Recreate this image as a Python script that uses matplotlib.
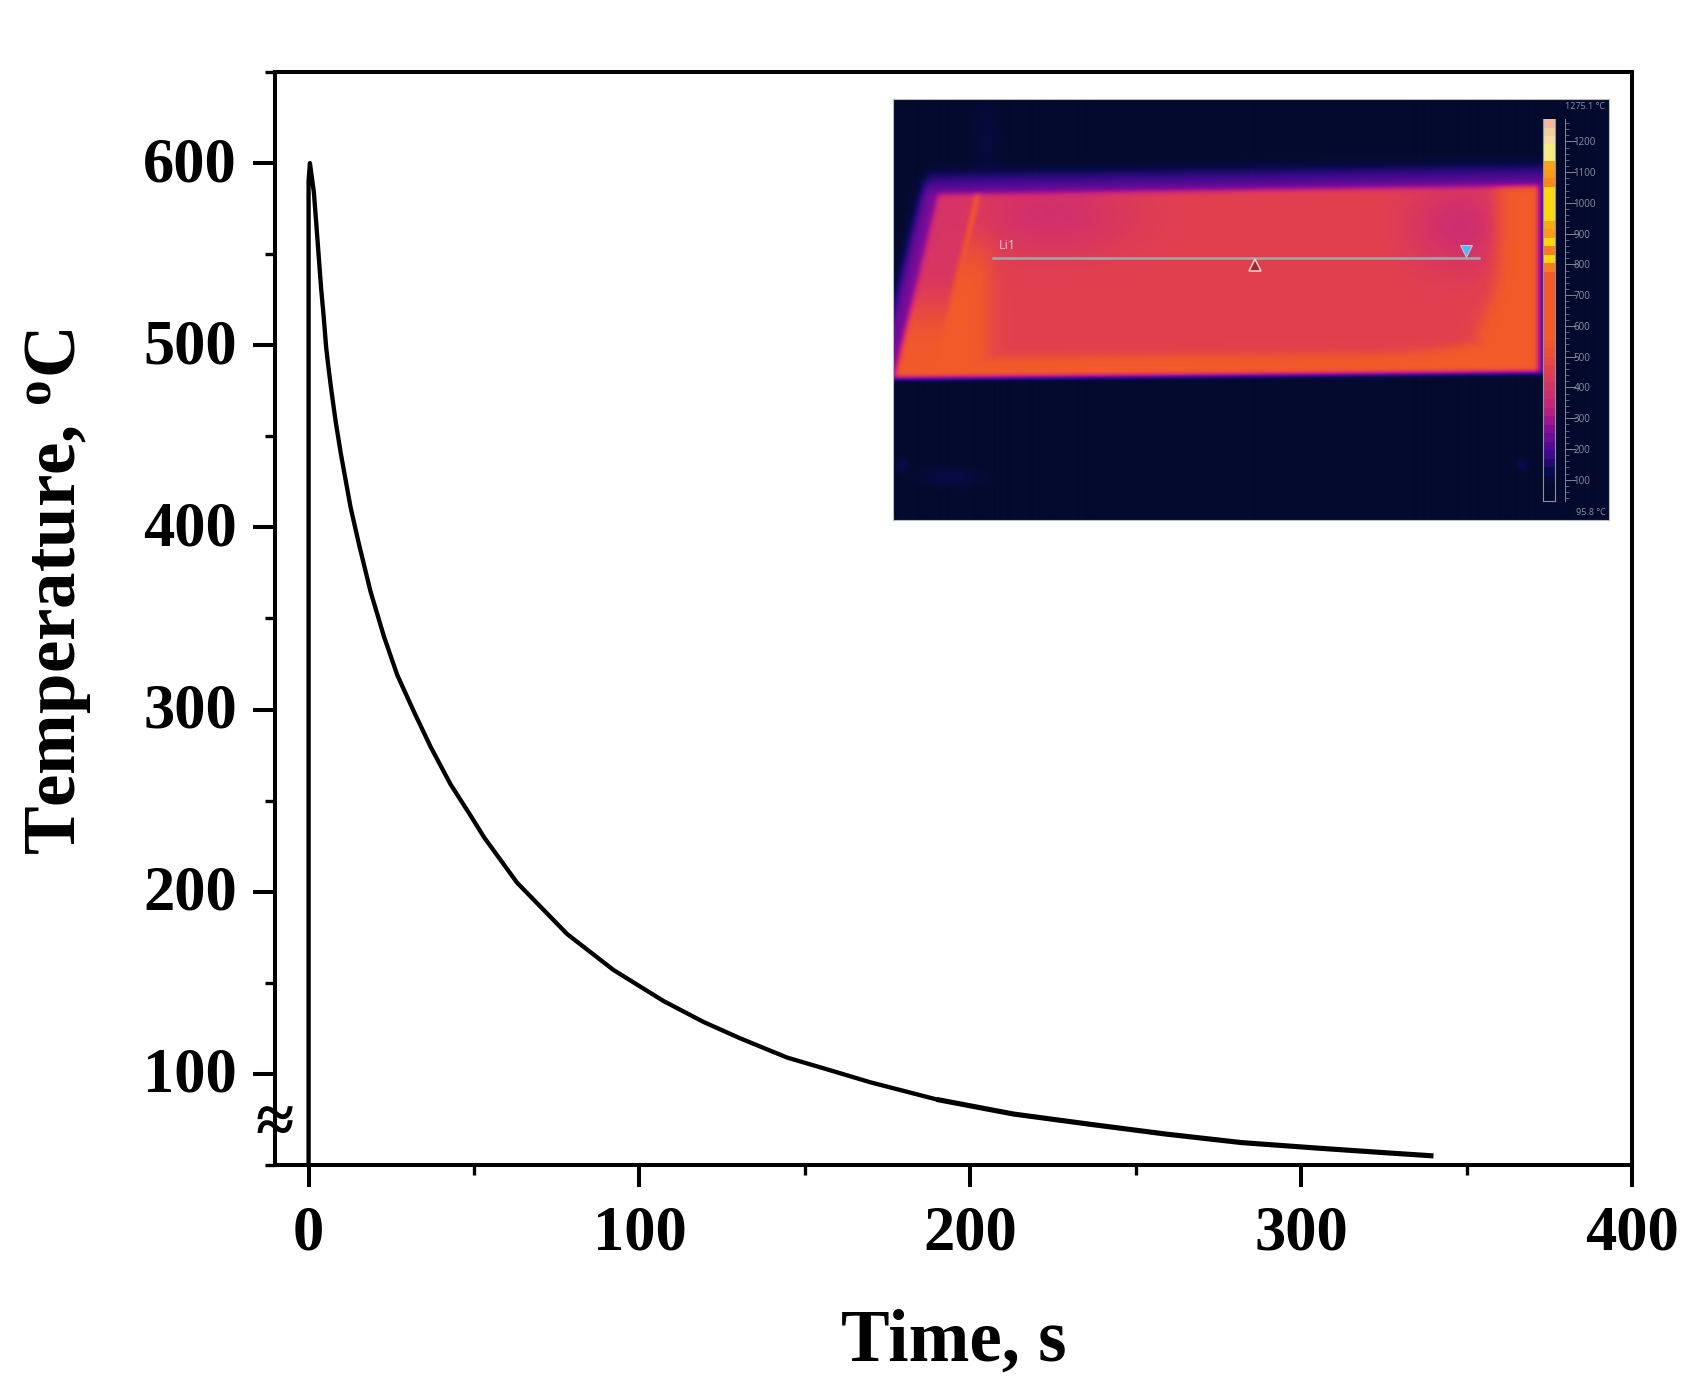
import matplotlib
matplotlib.use('Agg')
import matplotlib.pyplot as plt
import numpy as np
from matplotlib.colors import LinearSegmentedColormap
from matplotlib.ticker import MultipleLocator
from matplotlib.transforms import ScaledTranslation

plt.rcParams['font.family'] = ['Liberation Serif', 'DejaVu Serif']
plt.rcParams['mathtext.fontset'] = 'custom'
plt.rcParams['mathtext.rm'] = 'Liberation Serif:bold'

# cooling curve
time_s = [0.0, 0.0, 0.4, 1.6, 2.4, 3.1, 3.8, 4.6, 5.3, 6.0, 6.9, 8.2, 9.7, 12.7, 15.2,
          18.7, 22.8, 26.8, 31.8, 36.9, 42.9, 48.9, 53, 63, 78.2, 92.2, 107.3, 119.4, 130.5,
          144.6, 159.7, 169.8, 189.8, 213, 236, 259, 282, 305.5, 329, 340]
temp_c = [50, 590, 600, 584, 565, 548, 531, 515, 499, 488, 475, 458, 441, 411, 391,
          365, 340, 319, 299, 279.5, 259, 242, 230, 205, 176.7, 157, 140, 128.5, 119.5,
          109, 100.9, 95.4, 86, 78, 72.4, 67, 62.3, 59.2, 56.3, 55]
n_thin = 33  # the trace gets heavier from here on

x_ticks = [0, 100, 200, 300, 400]
y_ticks = [100, 200, 300, 400, 500, 600]

# colour scale of the thermal camera shot, bottom to top
scale_ticks = [100, 200, 300, 400, 500, 600, 700, 800, 900, 1000, 1100, 1200]
scale_levels = [0.02, 0.02, 0.04, 0.08, 0.14, 0.2, 0.25, 0.3, 0.34, 0.4, 0.46, 0.5, 0.54, 0.56,
                0.6, 0.62, 0.66, 0.7, 0.72, 0.74, 0.74, 0.74, 0.74, 0.74, 0.74, 0.74, 0.74,
                0.8, 0.92, 0.8, 0.92, 0.84, 0.86, 0.92, 0.92, 0.92, 0.92, 0.82, 0.84, 0.85,
                0.96, 0.96, 0.98, 0.985, 1.0]

DPI = 100
fig = plt.figure(figsize=(16.95, 13.9), dpi=DPI)
W, H = 1695, 1390


def fig_box(x0, y0, x1, y1):
    return [x0 / W, 1 - y1 / H, (x1 - x0) / W, (y1 - y0) / H]


ax = fig.add_axes(fig_box(274.5, 72, 1632, 1165))
ax.plot(time_s[:n_thin], temp_c[:n_thin], color='black', lw=3.1, solid_joinstyle='round')
ax.plot(time_s[n_thin - 1:], temp_c[n_thin - 1:], color='black', lw=3.7, solid_capstyle='butt')
ax.set_xlim(-10.3, 400)
ax.set_ylim(50, 650)
ax.set_xticks(x_ticks)
ax.set_yticks(y_ticks)
ax.xaxis.set_minor_locator(MultipleLocator(50))
ax.yaxis.set_minor_locator(MultipleLocator(50))
for s in ax.spines.values():
    s.set_linewidth(2.9)
ax.tick_params(which='major', length=16, width=2.9, labelsize=45, pad=13)
ax.tick_params(axis='y', which='major', pad=11)
ax.tick_params(which='minor', length=7, width=2.4)
lift = ScaledTranslation(0, 4 / DPI, fig.dpi_scale_trans)
for lab in ax.get_xticklabels():
    lab.set_fontweight('bold')
for lab in ax.get_yticklabels():
    lab.set_fontweight('bold')
    lab.set_transform(lab.get_transform() + lift)

fig.text(954 / W, 1 - 1343 / H, 'Time, s', fontsize=52.5, fontweight='bold', ha='center', va='center')
fig.text(58 / W, 1 - 592 / H, r'Temperature, $\mathregular{^{o}}$C', fontsize=52.5, fontweight='bold',
         rotation=90, ha='center', va='center')

# axis break mark
ax.text(-10.3, 71.5, '\u2248', fontsize=50, fontweight='bold', ha='center', va='center', clip_on=False)

# inset: thermal image
inset = fig.add_axes(fig_box(893, 99, 1609, 520))
ironbow = LinearSegmentedColormap.from_list('ironbow', [
    (0.0, '#020a22'), (0.08, '#0a0a50'), (0.2, '#3c0a8c'), (0.32, '#7a0c9a'),
    (0.45, '#b81c84'), (0.55, '#d2306c'), (0.62, '#e2404e'), (0.74, '#f25a2a'),
    (0.82, '#f88a1c'), (0.92, '#fcd80c'), (0.97, '#f8f0a0'), (1.0, '#f4b8a0')])


def step(d, w):
    return 0.5 * (1 + np.tanh(d / w))


def bump(u, v, u0, v0, su, sv):
    return np.exp(-((u - u0) / su) ** 2 - ((v - v0) / sv) ** 2)


u, v = np.meshgrid(np.linspace(0, 1, 716), np.linspace(0, 1, 421))
top = 0.228 - 0.024 * u
bottom = 0.66 - 0.016 * u
left = 0.0624 - 0.061 * (v - 0.228) / 0.432
crease = 0.117 - 0.054 * (v - 0.228) / 0.424
right = 0.90

inside = step(v - top, 0.006) * step(bottom - v, 0.004) * step(u - left, 0.004) * step(right - u, 0.003)
# violet glow around the hot plate, mostly above it
glow = step(v - (top - 0.055), 0.014) * step(bottom + 0.008 - v, 0.004) * step(u - left + 0.024, 0.008) * step(right + 0.012 - u, 0.004)
ramp = 0.12 + 0.2 * np.clip((v - (top - 0.055)) / 0.055, 0, 1)

hot = 0.62 - 0.07 * bump(u, v, 0.22, 0.27, 0.12, 0.1) - 0.08 * bump(u, v, 0.79, 0.3, 0.07, 0.11)
band = np.maximum.reduce([
    step(v - (bottom - 0.045 - 0.03 * bump(u, v, 0.85, 0.6, 0.08, 0.2)), 0.012),
    step(u - 0.845 + 0.035 * step(v - 0.5, 0.07), 0.012),
    step(0.135 - u, 0.014) * step(v - 0.36, 0.05),
    np.exp(-((u - crease) / 0.004) ** 2),
])
strip = step(crease - 0.006 - u, 0.003)
strip_value = 0.57 + 0.17 * step(v - 0.5, 0.06)
field = hot + (0.74 - hot) * band
field = field * (1 - strip) + strip_value * strip
backdrop = 0.02 + 0.03 * bump(u, v, 0.13, 0.1, 0.02, 0.09) + 0.06 * bump(u, v, 0.012, 0.87, 0.008, 0.015) \
    + 0.05 * bump(u, v, 0.08, 0.9, 0.04, 0.02) + 0.07 * bump(u, v, 0.878, 0.87, 0.007, 0.012)
field = (backdrop * (1 - glow) + ramp * glow) * (1 - inside) + field * inside

# soften it, the original is a low resolution screenshot
kernel = np.ones(5) / 5
for axis in (0, 1):
    field = np.apply_along_axis(lambda r: np.convolve(np.pad(r, 2, mode='edge'), kernel, mode='valid'), axis, field)

inset.imshow(field, cmap=ironbow, vmin=0, vmax=1, extent=(0, 1, 1, 0), aspect='auto')
inset.set_xlim(0, 1)
inset.set_ylim(1, 0)
inset.set_xticks([])
inset.set_yticks([])
for s in inset.spines.values():
    s.set_color('#b8bcc4')
    s.set_linewidth(0.8)

inset.plot([0.14, 0.818], [0.377, 0.377], color='#a2a9ab', lw=1.8)
inset.plot(0.80, 0.36, marker='v', ms=8, mfc='#5ab4f0', mec='#c4d8e8', mew=0.6)
inset.plot(0.506, 0.394, marker='^', ms=9, mfc='#a02830', mec='#f0c8c0', mew=1.2)
inset.text(0.16, 0.347, 'Li1', color='#c8ccd0', fontsize=9, ha='center', va='center', family='Open Sans')
inset.text(0.995, 0.018, '1275.1 \u00b0C', color='#8c90a0', fontsize=6.5, ha='right', va='center', family='Open Sans')
inset.text(0.995, 0.982, '95.8 \u00b0C', color='#8c90a0', fontsize=6.5, ha='right', va='center', family='Open Sans')

# colour bar with its scale
bar = inset.inset_axes([0.908, 0.046, 0.017, 0.906])
bar.imshow(np.array(scale_levels)[:, None], cmap=ironbow, vmin=0, vmax=1, origin='lower',
           aspect='auto', interpolation='nearest')
bar.set_xticks([])
bar.set_yticks([])
bar.spines['top'].set_visible(False)
for k in ['bottom', 'left', 'right']:
    bar.spines[k].set_color('#8c94a0')
    bar.spines[k].set_linewidth(0.8)

scale = inset.inset_axes([0.939, 0.046, 0.05, 0.906])
scale.patch.set_visible(False)
scale.set_ylim(32, 1272)
scale.set_xticks([])
scale.set_yticks(scale_ticks)
scale.yaxis.set_minor_locator(MultipleLocator(20))
scale.tick_params(axis='y', which='major', direction='in', length=8, width=0.7, color='#808898',
                  labelcolor='#8c90a0', labelsize=7, labelleft=False, labelright=True, pad=-20)
scale.tick_params(axis='y', which='minor', direction='in', length=3, width=0.5, color='#808898')
for lab in scale.get_yticklabels():
    lab.set_fontfamily('Open Sans')
for k, s in scale.spines.items():
    s.set_visible(k == 'left')
    s.set_color('#808898')
    s.set_linewidth(0.7)

fig.savefig('out.png', dpi=DPI)
